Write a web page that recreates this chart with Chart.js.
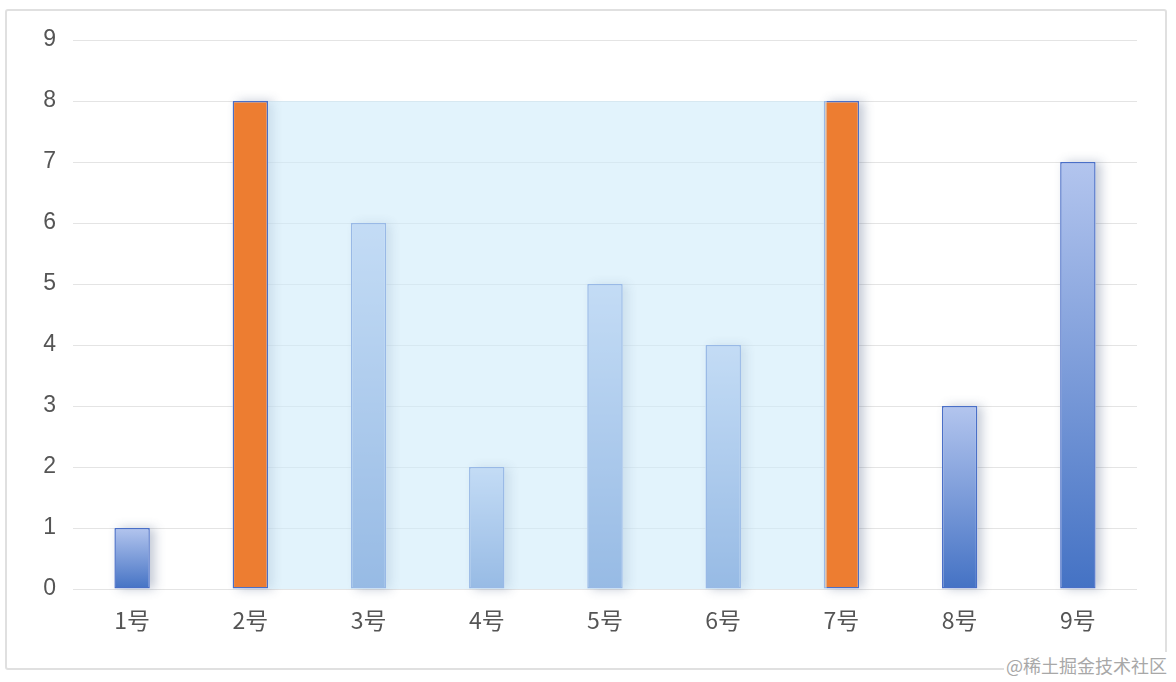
<!DOCTYPE html>
<html>
<head>
<meta charset="utf-8">
<script src="https://cdn.jsdelivr.net/npm/chart.js@4"></script>
<style>
  html, body { margin: 0; padding: 0; background: #fff; }
  .frame {
    position: absolute; left: 5px; top: 9px; width: 1158px; height: 657px;
    border: 2px solid #e0e0e0; border-radius: 3px;
  }
  .wrap { position: absolute; left: 0; top: 0; width: 1176px; height: 682px; }
  .mark {
    position: absolute; left: 1004px; top: 652px; padding: 0 2px;
    font: 18px "Noto Sans CJK SC", sans-serif; color: #a8a8a8; background: #fff;
    line-height: 26px;
  }
</style>
</head>
<body>
<div class="frame"></div>
<div class="wrap"><canvas id="chart" width="1176" height="682"></canvas></div>
<div class="mark">@稀土掘金技术社区</div>
<script>
  const categories = ["1号", "2号", "3号", "4号", "5号", "6号", "7号", "8号", "9号"];
  const values = [1, 8, 6, 2, 5, 4, 8, 3, 7];
  const highlighted = [false, true, false, false, false, false, true, false, false];
  const yTicks = [0, 1, 2, 3, 4, 5, 6, 7, 8, 9];

  // shaded band between the two highlighted bars
  const bandFrom = 1;
  const bandTo = 6;
  const bandValue = 8;

  function barFill(context) {
    const index = context.dataIndex;
    if (highlighted[index]) {
      return "#ed7d31";
    }
    const chart = context.chart;
    const yScale = chart.scales.y;
    if (!chart.chartArea || !yScale) {
      return "#7d9ad8";
    }
    const top = yScale.getPixelForValue(values[index]);
    const bottom = yScale.getPixelForValue(0);
    const gradient = chart.ctx.createLinearGradient(0, top, 0, bottom);
    gradient.addColorStop(0, "#b3c5ee");
    gradient.addColorStop(1, "#4472c4");
    return gradient;
  }

  // bars clip themselves, so the soft shadow is painted underneath first
  const shadowPlugin = {
    id: "barShadow",
    beforeDatasetsDraw(chart) {
      const ctx = chart.ctx;
      const meta = chart.getDatasetMeta(0);
      ctx.save();
      ctx.shadowColor = "rgba(60, 80, 120, 0.3)";
      ctx.shadowBlur = 10;
      ctx.shadowOffsetX = 5;
      ctx.shadowOffsetY = 0;
      ctx.fillStyle = "#ffffff";
      meta.data.forEach((bar) => {
        const left = bar.x - bar.width / 2;
        ctx.fillRect(left, bar.y, bar.width, bar.base - bar.y);
      });
      ctx.restore();
    }
  };

  const bandPlugin = {
    id: "band",
    afterDatasetsDraw(chart) {
      const meta = chart.getDatasetMeta(0);
      const left = meta.data[bandFrom];
      const right = meta.data[bandTo];
      const yScale = chart.scales.y;
      const x0 = left.x + left.width / 2;
      const x1 = right.x - right.width / 2;
      const y0 = yScale.getPixelForValue(bandValue);
      const y1 = yScale.getPixelForValue(0);
      const ctx = chart.ctx;
      ctx.save();
      ctx.fillStyle = "rgba(207, 235, 250, 0.6)";
      ctx.fillRect(x0, y0, x1 - x0 + 3, y1 - y0);
      ctx.restore();
    }
  };

  new Chart(document.getElementById("chart").getContext("2d"), {
    type: "bar",
    data: {
      labels: categories,
      datasets: [{
        data: values,
        backgroundColor: barFill,
        borderColor: "#4a6fc7",
        borderWidth: 1.5,
        borderSkipped: false,
        barPercentage: 0.3,
        categoryPercentage: 1
      }]
    },
    options: {
      responsive: false,
      animation: false,
      devicePixelRatio: 1,
      layout: { padding: { left: 0, top: 40, right: 39, bottom: 0 } },
      plugins: { legend: { display: false }, tooltip: { enabled: false } },
      scales: {
        x: {
          grid: { display: false, drawTicks: false },
          border: { display: false },
          ticks: {
            color: "#555",
            font: { size: 23, family: "'Noto Sans CJK SC', sans-serif" },
            padding: 17
          },
          afterFit(scale) { scale.height = 682 - 589; }
        },
        y: {
          min: 0,
          max: 9,
          afterBuildTicks(scale) { scale.ticks = yTicks.map((v) => ({ value: v })); },
          grid: { color: "#e4e4e4", lineWidth: 1, drawTicks: false },
          border: { display: false },
          ticks: {
            color: "#555",
            font: { size: 23, family: "'Helvetica Neue', Arial, 'Liberation Sans', sans-serif" },
            padding: 17
          },
          afterFit(scale) { scale.width = 73; }
        }
      }
    },
    plugins: [shadowPlugin, bandPlugin]
  });
</script>
</body>
</html>
